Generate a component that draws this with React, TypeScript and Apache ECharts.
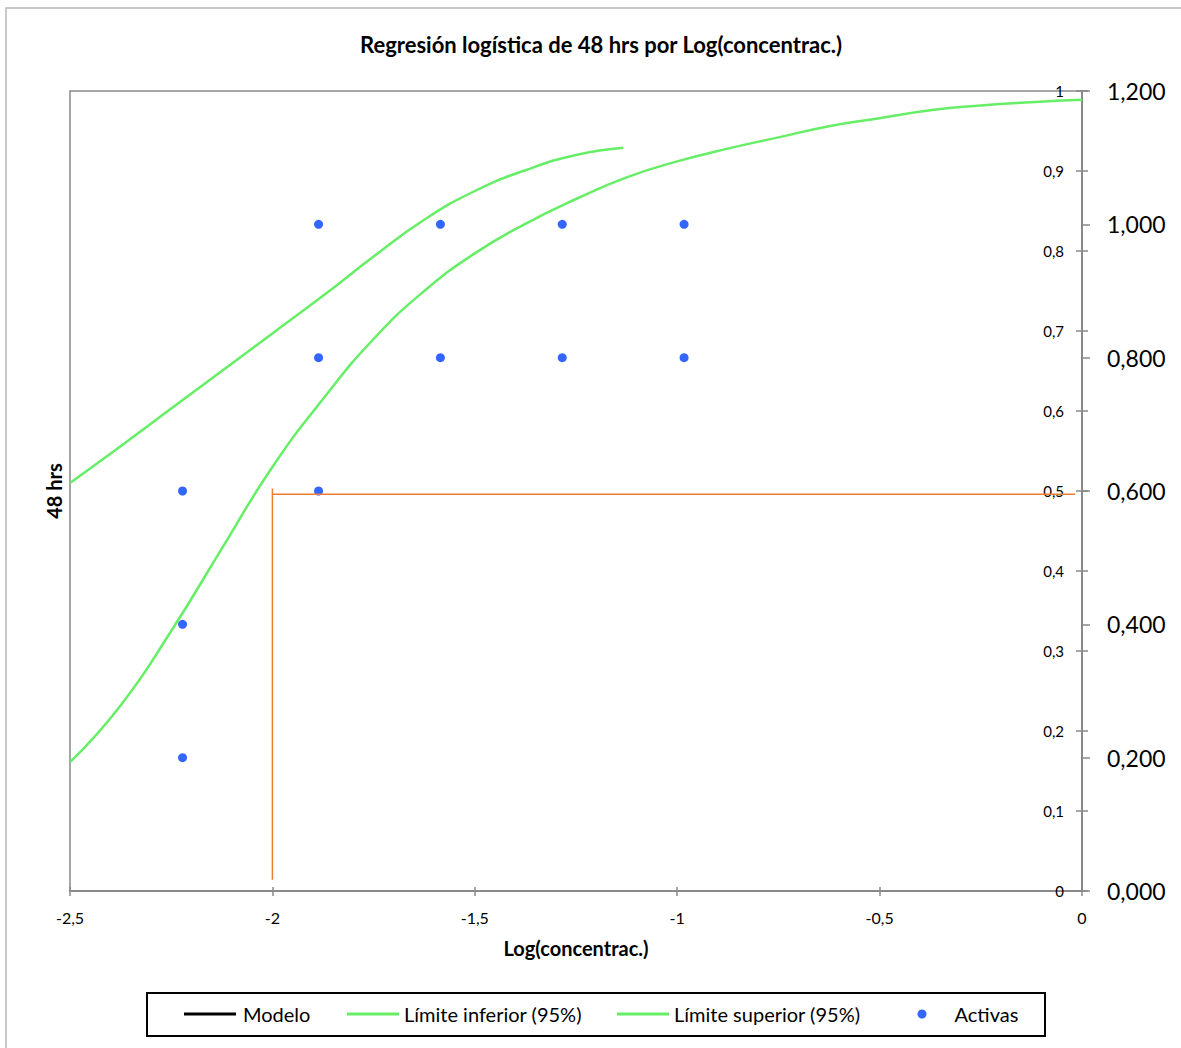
import React, { useEffect, useRef } from "react";
import * as echarts from "echarts";

const FONT = "Lato, 'Open Sans', sans-serif";

// Observed points (Activas) — plotted on the secondary (outer) axis 0–1.2
const activasX = [-2.222, -2.222, -2.222, -1.886, -1.886, -1.886, -1.585, -1.585, -1.284, -1.284, -0.983, -0.983];
const activasY = [0.6, 0.4, 0.2, 1.0, 0.8, 0.6, 1.0, 0.8, 1.0, 0.8, 1.0, 0.8];

// Lower 95% limit curve (inner axis 0–1), read at steps of 0.125
const lowerX = [-2.5, -2.375, -2.25, -2.125, -2.0, -1.875, -1.75, -1.625, -1.5, -1.375, -1.25, -1.125, -1.0, -0.875, -0.75, -0.625, -0.5, -0.375, -0.25, -0.125, 0];
const lowerY = [0.161, 0.232, 0.325, 0.428, 0.53, 0.615, 0.69, 0.75, 0.797, 0.834, 0.865, 0.892, 0.912, 0.928, 0.942, 0.956, 0.966, 0.976, 0.982, 0.986, 0.989];

// Upper 95% limit curve (inner axis 0–1)
const upperX = [-2.5, -2.375, -2.25, -2.125, -2.0, -1.875, -1.75, -1.625, -1.5, -1.375, -1.25, -1.133];
const upperY = [0.51, 0.556, 0.603, 0.65, 0.697, 0.744, 0.793, 0.839, 0.875, 0.901, 0.92, 0.929];

// Model line (not visible in the reference)
const modeloX: number[] = [];
const modeloY: number[] = [];

// LD50 reference lines
const ld50VertX = [-2, -2];
const ld50VertY = [0.014, 0.503];
const ld50HorX = [-2, -0.017];
const ld50HorY = [0.496, 0.496];

const legendNames = ["Modelo", "Límite inferior (95%)", "Límite superior (95%)", "Activas"];
const legendLeft = [184, 347, 617, 917.5];

const pairs = (xs: number[], ys: number[]) => xs.map((x, i) => [x, ys[i]]);
const fmt1 = (v: number) => String(Math.round(v * 10) / 10).replace(".", ",");
const fmt3 = (v: number) => v.toFixed(3).replace(".", ",");

const GRAY = "#898989";
const GREEN = "#66ee66";
const ORANGE = "#ED7D31";
const BLUE = "#3366ff";

export default function App() {
  const ref = useRef<HTMLDivElement>(null);
  useEffect(() => {
    document.body.style.margin = "0";
    const chart = echarts.init(ref.current!, undefined, { renderer: "svg" });
    const legendCommon = {
      orient: "horizontal",
      top: 1004,
      padding: 0,
      itemWidth: 52,
      itemGap: 0,
      selectedMode: false,
      textStyle: { fontFamily: FONT, fontSize: 20, color: "#000" },
    };
    chart.setOption({
      animation: false,
      backgroundColor: "#fff",
      textStyle: { fontFamily: FONT },
      title: {
        text: "Regresión logística de 48 hrs por Log(concentrac.)",
        left: 596,
        textAlign: "center",
        top: 28,
        textStyle: { fontFamily: FONT, fontSize: 22, fontWeight: "bold", color: "#000" },
      },
      graphic: [
        {
          type: "rect",
          silent: true,
          shape: { x: 6, y: 8, width: 1300, height: 1200 },
          style: { fill: "none", stroke: "#b8b8b8", lineWidth: 1.5 },
        },
        {
          type: "rect",
          silent: true,
          shape: { x: 147, y: 993, width: 898, height: 43 },
          style: { fill: "none", stroke: "#000", lineWidth: 2 },
        },
      ],
      legend: [
        {
          ...legendCommon,
          left: legendLeft[0],
          itemHeight: 3,
          textStyle: { ...legendCommon.textStyle, padding: [0, 0, 0, 2] },
          data: [{ name: legendNames[0], icon: "rect" }],
        },
        { ...legendCommon, left: legendLeft[1], itemHeight: 3, data: [{ name: legendNames[1], icon: "rect" }] },
        { ...legendCommon, left: legendLeft[2], itemHeight: 3, data: [{ name: legendNames[2], icon: "rect" }] },
        {
          ...legendCommon,
          left: legendLeft[3],
          itemWidth: 9,
          itemHeight: 9,
          textStyle: { ...legendCommon.textStyle, padding: [0, 0, 0, 23] },
          data: [{ name: legendNames[3], icon: "circle" }],
        },
      ],
      grid: {
        left: 70,
        top: 91,
        right: 99,
        bottom: 157,
        show: true,
        borderColor: GRAY,
        borderWidth: 1.5,
        backgroundColor: "transparent",
      },
      xAxis: [
        {
          type: "value",
          min: -2.5,
          max: 0,
          interval: 0.5,
          splitLine: { show: false },
          axisLine: { show: true, onZero: false, lineStyle: { color: GRAY, width: 2 } },
          axisTick: { show: true, inside: false, length: 5, lineStyle: { color: GRAY, width: 1.5 } },
          axisLabel: { fontSize: 16, color: "#000", margin: 18, formatter: (v: number) => fmt1(v) },
          name: "Log(concentrac.)",
          nameLocation: "middle",
          nameGap: 47,
          nameTextStyle: { fontSize: 20, fontWeight: "bold", color: "#000" },
        },
        {
          type: "value",
          min: -2.5,
          max: 0,
          interval: 0.5,
          position: "bottom",
          splitLine: { show: false },
          axisLine: { show: false },
          axisTick: { show: true, inside: true, length: 4, lineStyle: { color: GRAY, width: 1.5 } },
          axisLabel: { show: false },
        },
      ],
      yAxis: [
        {
          type: "value",
          position: "right",
          min: 0,
          max: 1,
          interval: 0.1,
          splitLine: { show: false },
          axisLine: { show: true, onZero: false, lineStyle: { color: GRAY, width: 2 } },
          axisTick: { show: true, inside: true, length: 6, lineStyle: { color: GRAY, width: 1.5 } },
          axisLabel: { inside: true, margin: 18, fontSize: 15, color: "#000", formatter: (v: number) => fmt1(v) },
        },
        {
          type: "value",
          position: "right",
          min: 0,
          max: 1.2,
          interval: 0.2,
          splitLine: { show: false },
          axisLine: { show: true, onZero: false, lineStyle: { color: GRAY, width: 2 } },
          axisTick: { show: true, inside: false, length: 8, lineStyle: { color: GRAY, width: 1.5 } },
          axisLabel: { margin: 25, fontSize: 23, color: "#000", formatter: (v: number) => fmt3(v) },
        },
        {
          type: "value",
          position: "right",
          min: 0,
          max: 1,
          interval: 0.1,
          splitLine: { show: false },
          axisLine: { show: false },
          axisTick: { show: true, inside: false, length: 6, lineStyle: { color: GRAY, width: 1.5 } },
          axisLabel: { show: false },
        },
        {
          type: "value",
          position: "left",
          min: 0,
          max: 1,
          splitLine: { show: false },
          axisLine: { show: false },
          axisTick: { show: false },
          axisLabel: { show: false },
          name: "48 hrs",
          nameLocation: "middle",
          nameRotate: 90,
          nameGap: 6,
          nameTextStyle: { fontSize: 20, fontWeight: "bold", color: "#000" },
        },
      ],
      series: [
        {
          name: legendNames[0],
          type: "line",
          yAxisIndex: 0,
          data: pairs(modeloX, modeloY),
          symbol: "none",
          color: "#000",
          lineStyle: { color: "#000", width: 2 },
        },
        {
          name: legendNames[1],
          type: "line",
          yAxisIndex: 0,
          data: pairs(lowerX, lowerY),
          symbol: "none",
          smooth: 0.5,
          color: GREEN,
          lineStyle: { color: GREEN, width: 2.5 },
        },
        {
          name: legendNames[2],
          type: "line",
          yAxisIndex: 0,
          data: pairs(upperX, upperY),
          symbol: "none",
          smooth: 0.5,
          color: GREEN,
          lineStyle: { color: GREEN, width: 2.5 },
        },
        {
          name: legendNames[3],
          type: "scatter",
          yAxisIndex: 1,
          data: pairs(activasX, activasY),
          symbol: "circle",
          symbolSize: 9,
          color: BLUE,
          itemStyle: { color: BLUE, opacity: 1 },
        },
        {
          name: "LD50 vertical",
          type: "line",
          yAxisIndex: 0,
          data: pairs(ld50VertX, ld50VertY),
          symbol: "none",
          silent: true,
          lineStyle: { color: ORANGE, width: 1.5 },
        },
        {
          name: "LD50 horizontal",
          type: "line",
          yAxisIndex: 0,
          data: pairs(ld50HorX, ld50HorY),
          symbol: "none",
          silent: true,
          lineStyle: { color: ORANGE, width: 1.5 },
        },
      ],
    });
    return () => chart.dispose();
  }, []);
  return <div ref={ref} style={{ width: 1181, height: 1048 }} />;
}
